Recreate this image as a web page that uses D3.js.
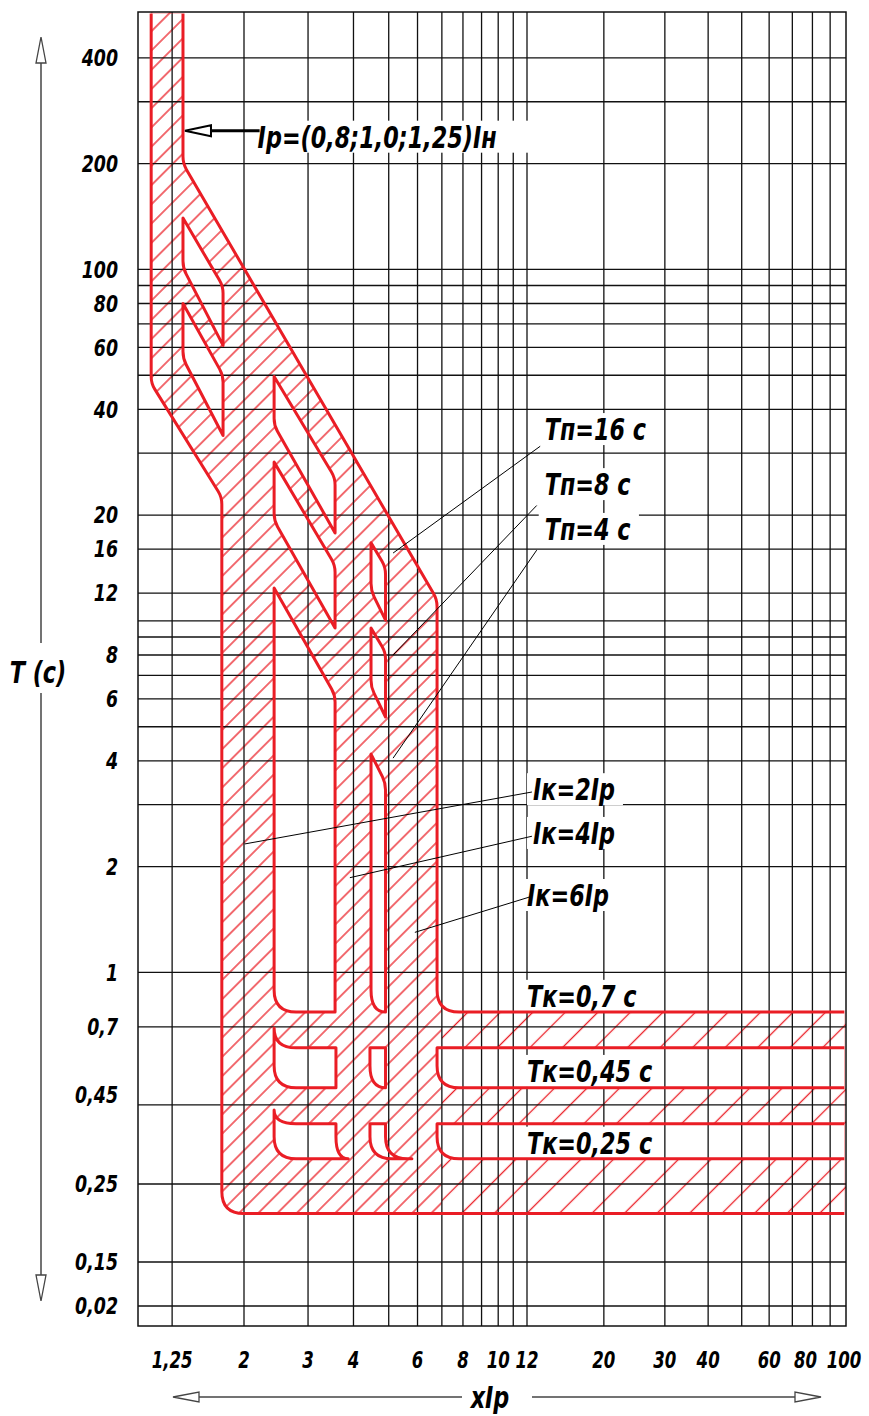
<!DOCTYPE html>
<html>
<head>
<meta charset="utf-8">
<script src="https://cdn.jsdelivr.net/npm/d3@7/dist/d3.min.js"></script>
<style>
  body { margin: 0; background: #fff; }
  text {
    font-family: "Liberation Sans Narrow", "DejaVu Sans Condensed", "Roboto", sans-serif;
    font-weight: bold;
    font-style: italic;
    fill: #000;
  }
</style>
</head>
<body>
<svg id="chart" width="869" height="1416"></svg>
<script>
// ---- data: grid and tick values ----
var xGrid = [1.25, 2, 3, 4, 5, 6, 7, 8, 9, 10, 11, 12, 20, 30, 40, 50, 60, 70, 80, 90];
var xTicks = [1.25, 2, 3, 4, 6, 8, 10, 12, 20, 30, 40, 60, 80, 100];
var xTickLabels = ["1,25", "2", "3", "4", "6", "8", "10", "12", "20", "30", "40", "60", "80", "100"];

var tGrid = [0.02, 0.15, 0.25, 0.42, 0.7, 1, 2, 3, 4, 5, 6, 7, 8, 9, 10, 12, 16, 20, 30, 40, 50, 60, 70, 80, 90, 100, 200, 300, 400];
var tTicks = [0.02, 0.15, 0.25, 0.45, 0.7, 1, 2, 4, 6, 8, 12, 16, 20, 40, 60, 80, 100, 200, 400];
var tTickLabels = ["0,02", "0,15", "0,25", "0,45", "0,7", "1", "2", "4", "6", "8", "12", "16", "20", "40", "60", "80", "100", "200", "400"];

// ---- data: zone outlines, [xIp, T (s), corner: 0 sharp / 1 small / 2 large] ----
var envelope = [
  [1.09, 540, 0], [1.09, 47.4, 1], [1.73, 22.5, 1], [1.73, 0.206, 2],
  [100, 0.206, 0], [100, 0.772, 0], [6.79, 0.772, 2], [6.79, 11.5, 1],
  [1.342, 200, 1], [1.342, 540, 0]
];
// white gaps between the bands
var gapsIp = [
  [[1.342, 140, 0], [1.744, 89.5, 1], [1.744, 60.8, 0], [1.342, 101, 1]],
  [[1.342, 80, 0], [1.744, 50, 1], [1.744, 33.7, 0], [1.342, 55.8, 1]]
];
var gapsTp = [
  [[2.42, 49.6, 0], [3.56, 25.5, 1], [3.56, 17.8, 0], [2.42, 36, 1]],
  [[2.42, 28.3, 0], [3.56, 14.4, 1], [3.56, 9.54, 0], [2.42, 19.3, 1]],
  [[4.47, 16.7, 0], [4.9, 14.2, 1], [4.9, 10.05, 0], [4.47, 12.2, 1]],
  [[4.47, 9.54, 0], [4.9, 8.15, 1], [4.9, 5.33, 0], [4.47, 6.48, 1]]
];
var gapsIk = [
  [[2.42, 12.4, 0], [3.56, 6.15, 1], [3.56, 0.772, 0], [2.42, 0.772, 2]],
  [[4.47, 4.18, 0], [4.9, 3.46, 1], [4.9, 0.772, 0], [4.47, 0.772, 2]]
];
var gapsTk = [
  [[2.42, 0.695, 0], [2.42, 0.61, 2], [3.58, 0.61, 0], [3.58, 0.47, 0], [2.42, 0.47, 2]],
  [[2.42, 0.406, 0], [2.42, 0.371, 2], [3.58, 0.371, 0], [3.58, 0.295, 2], [3.87, 0.295, 0], [2.42, 0.295, 2]],
  [[4.44, 0.61, 0], [4.9, 0.61, 0], [4.9, 0.47, 0], [4.44, 0.47, 2]],
  [[4.44, 0.371, 0], [4.9, 0.371, 0], [4.9, 0.295, 2], [5.79, 0.295, 0], [4.44, 0.295, 2]],
  [[6.79, 0.61, 0], [6.79, 0.47, 2], [100, 0.47, 0], [100, 0.61, 0]],
  [[6.79, 0.371, 0], [6.79, 0.295, 2], [100, 0.295, 0], [100, 0.371, 0]]
];

// ---- data: annotations (text at [xIp, T], leader from -> to) ----
var notes = [
  { text: "Tп=16 с", at: [13.5, 32.7], from: [13.1, 31.4], to: [5.14, 15.6] },
  { text: "Tп=8 с",  at: [13.5, 22.8], from: [12.8, 21.3], to: [5.14, 8] },
  { text: "Tп=4 с",  at: [13.5, 17.0], from: [12.8, 15.9], to: [5.14, 4.07] },
  { text: "Iк=2Iр",  at: [12.49, 3.09], from: [12.4, 3.26], to: [2.01, 2.32] },
  { text: "Iк=4Iр",  at: [12.49, 2.32], from: [12.4, 2.44], to: [3.91, 1.86] },
  { text: "Iк=6Iр",  at: [12.0, 1.545], from: [12.24, 1.64], to: [5.9, 1.3] },
  { text: "Tк=0,7 с",  at: [12.0, 0.798] },
  { text: "Tк=0,45 с", at: [12.0, 0.488] },
  { text: "Tк=0,25 с", at: [12.0, 0.305] }
];
var ipNote = { text: "Iр=(0,8;1,0;1,25)Iн", at: [2.18, 222], from: [2.18, 248], to: [1.342, 248] };

// ---- layout ----
var RED = "#ea1d25";
var CORNER = [0, 7, 22];
var NARROW = 0.8;   // the drawing uses a condensed face
var plotL = 138, plotR = 846, plotT = 12, plotB = 1326;

var x = d3.scaleLog().domain([1, 2, 12, 100]).range([plotL, 244, 527, plotR]);
var y = d3.scaleLog().domain([0.015, 0.02, 0.15, 540]).range([plotB, 1306, 1262, plotT]);

var svg = d3.select("#chart");
var defs = svg.append("defs");

function narrow(sel, k) {
  sel.each(function() {
    var w = this.getComputedTextLength();
    d3.select(this).attr("textLength", w * k).attr("lengthAdjust", "spacingAndGlyphs");
  });
}

function hatch(id, s) {
  var p = defs.append("pattern")
      .attr("id", id)
      .attr("patternUnits", "userSpaceOnUse")
      .attr("width", s).attr("height", s)
      .attr("patternTransform", "rotate(45)");
  p.append("line")
      .attr("x1", s / 2).attr("y1", 0).attr("x2", s / 2).attr("y2", s)
      .attr("stroke", RED).attr("stroke-width", 1.3);
}
hatch("hatchDense", 13.6);
hatch("hatchSparse", 23);

defs.append("clipPath").attr("id", "clipDense").append("rect")
    .attr("x", plotL).attr("y", plotT).attr("width", x(7) - plotL).attr("height", plotB - plotT);
defs.append("clipPath").attr("id", "clipSparse").append("rect")
    .attr("x", x(7)).attr("y", plotT).attr("width", plotR - x(7)).attr("height", plotB - plotT);
defs.append("clipPath").attr("id", "clipPlot").append("rect")
    .attr("x", plotL).attr("y", plotT + 1.6).attr("width", plotR - plotL - 1.6).attr("height", plotB - plotT);

// rounded polygon through the scales
function toward(v, w, r) {
  var dx = w[0] - v[0], dy = w[1] - v[1], d = Math.sqrt(dx * dx + dy * dy);
  if (d === 0) return [v[0], v[1]];
  var t = Math.min(r, d) / d;
  return [v[0] + dx * t, v[1] + dy * t];
}
function shapePath(pts) {
  var p = pts.map(function(d) { return [x(d[0]), y(d[1]), CORNER[d[2]]]; });
  var n = p.length, path = d3.path();
  p.forEach(function(v, i) {
    var prev = p[(i - 1 + n) % n], next = p[(i + 1) % n];
    if (v[2] === 0) {
      if (i === 0) path.moveTo(v[0], v[1]); else path.lineTo(v[0], v[1]);
    } else {
      var a = toward(v, prev, v[2]), b = toward(v, next, v[2]);
      if (i === 0) path.moveTo(a[0], a[1]); else path.lineTo(a[0], a[1]);
      path.quadraticCurveTo(v[0], v[1], b[0], b[1]);
    }
  });
  path.closePath();
  return path.toString();
}

var gaps = gapsIp.concat(gapsTp, gapsIk, gapsTk);

// hatching
["Dense", "Sparse"].forEach(function(k) {
  svg.append("path")
      .attr("d", shapePath(envelope))
      .attr("fill", "url(#hatch" + k + ")")
      .attr("clip-path", "url(#clip" + k + ")");
});
svg.append("g").selectAll("path")
    .data(gaps)
  .enter().append("path")
    .attr("d", shapePath)
    .attr("fill", "#fff");

// grid
var grid = svg.append("g").attr("stroke", "#111").attr("stroke-width", 1.3);
grid.selectAll("line.v")
    .data(xGrid)
  .enter().append("line")
    .attr("x1", function(d) { return x(d); }).attr("x2", function(d) { return x(d); })
    .attr("y1", plotT).attr("y2", plotB);
grid.selectAll("line.h")
    .data(tGrid)
  .enter().append("line")
    .attr("y1", function(d) { return y(d); }).attr("y2", function(d) { return y(d); })
    .attr("x1", plotL).attr("x2", plotR);

// annotation texts (white boxes behind them)
var boxes = svg.append("g");
var texts = svg.append("g");
function putNote(d, padR) {
  var t = texts.append("text")
      .attr("x", x(d.at[0])).attr("y", y(d.at[1]))
      .style("font-size", "31px")
      .text(d.text)
      .call(narrow, NARROW);
  var b = t.node().getBBox();
  boxes.append("rect")
      .attr("x", b.x - 6).attr("y", b.y + 2)
      .attr("width", b.width + 6 + padR).attr("height", b.height - 4)
      .attr("fill", "#fff");
}
notes.forEach(function(d) { putNote(d, 8); });
putNote(ipNote, 40);

// red outlines
var outl = svg.append("g")
    .attr("clip-path", "url(#clipPlot)")
    .attr("fill", "none").attr("stroke", RED).attr("stroke-width", 3)
    .attr("stroke-linejoin", "round");
outl.append("path").attr("d", shapePath(envelope));
outl.selectAll("path.gap")
    .data(gaps)
  .enter().append("path")
    .attr("d", shapePath);

// frame
svg.append("rect")
    .attr("x", plotL).attr("y", plotT).attr("width", plotR - plotL).attr("height", plotB - plotT)
    .attr("fill", "none").attr("stroke", "#111").attr("stroke-width", 1.5);

// leaders
svg.append("g").selectAll("line")
    .data(notes.filter(function(d) { return d.to; }))
  .enter().append("line")
    .attr("x1", function(d) { return x(d.from[0]); }).attr("y1", function(d) { return y(d.from[1]); })
    .attr("x2", function(d) { return x(d.to[0]); }).attr("y2", function(d) { return y(d.to[1]); })
    .attr("stroke", "#000").attr("stroke-width", 1);

// Ip arrow
var ax = x(ipNote.to[0]) + 2, ay = y(ipNote.from[1]);
svg.append("line")
    .attr("x1", x(ipNote.from[0]) + 2).attr("y1", ay).attr("x2", ax + 24).attr("y2", ay)
    .attr("stroke", "#000").attr("stroke-width", 3);
svg.append("path")
    .attr("d", "M" + ax + "," + ay + "L" + (ax + 26) + "," + (ay - 5.5) + "L" + (ax + 26) + "," + (ay + 5.5) + "Z")
    .attr("fill", "#fff").attr("stroke", "#000").attr("stroke-width", 2);

// tick labels
svg.append("g").selectAll("text")
    .data(tTicks)
  .enter().append("text")
    .attr("x", plotL - 20)
    .attr("y", function(d) { return y(d); })
    .attr("dy", "0.36em")
    .attr("text-anchor", "end")
    .style("font-size", "23px")
    .text(function(d, i) { return tTickLabels[i]; })
    .call(narrow, 0.84);
// the last two labels crowd each other, nudge them apart as in the drawing
var xNudge = { 80: -7, 100: -2 };
svg.append("g").selectAll("text")
    .data(xTicks)
  .enter().append("text")
    .attr("x", function(d) { return x(d) + (xNudge[d] || 0); })
    .attr("y", plotB + 42)
    .attr("text-anchor", "middle")
    .style("font-size", "23px")
    .text(function(d, i) { return xTickLabels[i]; })
    .call(narrow, 0.8);

// axis arrows and titles
var AX = "#444";
function openHead(tipX, tipY, dx, dy) {
  var bx = tipX - dx * 26, by = tipY - dy * 26;
  var px = -dy * 5, py = dx * 5;
  svg.append("path")
      .attr("d", "M" + tipX + "," + tipY + "L" + (bx + px) + "," + (by + py) + "L" + (bx - px) + "," + (by - py) + "Z")
      .attr("fill", "#fff").attr("stroke", AX).attr("stroke-width", 1.3);
}
var yAxX = 41, midY = (plotT + plotB) / 2;
svg.append("line").attr("x1", yAxX).attr("x2", yAxX).attr("y1", plotT + 50).attr("y2", midY - 26)
    .attr("stroke", AX).attr("stroke-width", 1.5);
svg.append("line").attr("x1", yAxX).attr("x2", yAxX).attr("y1", midY + 24).attr("y2", plotB - 50)
    .attr("stroke", AX).attr("stroke-width", 1.5);
openHead(yAxX, plotT + 25, 0, -1);
openHead(yAxX, plotB - 25, 0, 1);
svg.append("text").attr("x", yAxX - 3).attr("y", midY + 3).attr("dy", "0.36em")
    .attr("text-anchor", "middle").style("font-size", "31px").text("T (с)")
    .call(narrow, NARROW);

var xAxY = plotB + 71, midX = (plotL + plotR) / 2;
svg.append("line").attr("y1", xAxY).attr("y2", xAxY).attr("x1", plotL + 60).attr("x2", midX - 30)
    .attr("stroke", AX).attr("stroke-width", 1.5);
svg.append("line").attr("y1", xAxY).attr("y2", xAxY).attr("x1", midX + 40).attr("x2", plotR - 50)
    .attr("stroke", AX).attr("stroke-width", 1.5);
openHead(plotL + 35, xAxY, -1, 0);
openHead(plotR - 25, xAxY, 1, 0);
svg.append("text").attr("x", midX - 2).attr("y", xAxY).attr("dy", "0.36em")
    .attr("text-anchor", "middle").style("font-size", "31px").text("xIр")
    .call(narrow, NARROW);
</script>
</body>
</html>
